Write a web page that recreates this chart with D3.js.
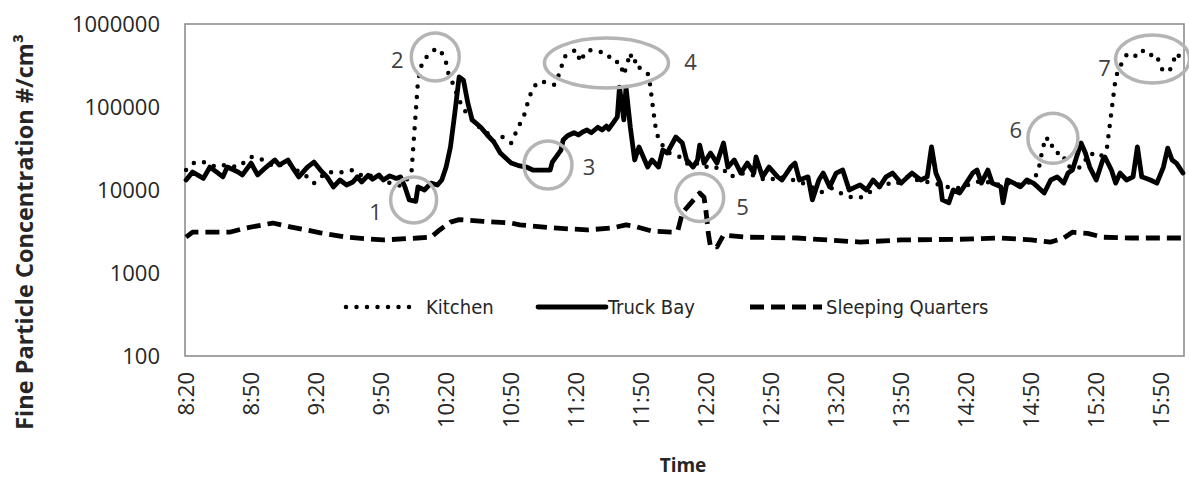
<!DOCTYPE html>
<html>
<head>
<meta charset="utf-8">
<script src="https://cdn.jsdelivr.net/npm/d3@7"></script>
<style>
  body { margin: 0; background: #fff; }
  svg { display: block; }
</style>
</head>
<body>
<div id="chart"></div>
<script>
// tick labels
const timeTicks = ["8:20", "8:50", "9:20", "9:50", "10:20", "10:50", "11:20", "11:50",
  "12:20", "12:50", "13:20", "13:50", "14:20", "14:50", "15:20", "15:50"];
const yTicks = [100, 1000, 10000, 100000, 1000000];
const seriesNames = ["Kitchen", "Truck Bay", "Sleeping Quarters"];
const timeRange = ["8:20", "16:00"];

// readings, [time, particles per cm3]
const kitchen = [
  ["8:20", 17400], ["8:24", 21700], ["8:28", 21700], ["8:34", 18900], ["8:38", 20000],
  ["8:44", 18900], ["8:50", 25000], ["8:54", 24000], ["9:01", 18900], ["9:07", 21700],
  ["9:12", 16500], ["9:16", 14400], ["9:19", 12100], ["9:25", 16500], ["9:30", 16000],
  ["9:37", 17400], ["9:42", 14400], ["9:48", 15200], ["9:54", 12100], ["9:59", 11200],
  ["10:03", 14400], ["10:04", 16000], ["10:07", 205000], ["10:09", 349000], ["10:13", 460000],
  ["10:16", 513000], ["10:18", 448000], ["10:20", 340000], ["10:21", 257000], ["10:23", 195000],
  ["10:26", 121000], ["10:29", 87000], ["10:33", 65000], ["10:37", 52000], ["10:40", 47000],
  ["10:42", 38000], ["10:46", 43500], ["10:50", 36800], ["10:53", 55000], ["10:56", 80000],
  ["10:58", 121000], ["11:00", 170000], ["11:03", 205000], ["11:08", 195000], ["11:10", 185000],
  ["11:13", 279000], ["11:14", 389000], ["11:17", 448000], ["11:20", 487000], ["11:22", 349000],
  ["11:24", 448000], ["11:26", 487000], ["11:31", 460000], ["11:34", 448000], ["11:37", 349000],
  ["11:40", 349000], ["11:42", 243000], ["11:45", 448000], ["11:46", 340000], ["11:48", 368000],
  ["11:49", 300000], ["11:53", 257000], ["11:54", 195000], ["11:55", 121000], ["11:56", 76000],
  ["11:57", 49000], ["11:59", 36800], ["12:03", 27900], ["12:08", 25000], ["12:12", 20000],
  ["12:17", 21100], ["12:22", 18000], ["12:27", 19000], ["12:31", 14400], ["12:36", 16000],
  ["12:42", 15000], ["12:48", 13000], ["12:55", 14400], ["13:01", 13000], ["13:07", 11500],
  ["13:13", 9400], ["13:18", 10500], ["13:22", 9200], ["13:28", 8000], ["13:32", 8200],
  ["13:37", 10000], ["13:43", 12100], ["13:47", 11500], ["13:53", 14400], ["13:58", 13000],
  ["14:05", 12100], ["14:10", 11000], ["14:17", 10500], ["14:23", 12100], ["14:28", 13000],
  ["14:33", 11500], ["14:40", 12100], ["14:46", 11500], ["14:50", 12600], ["14:53", 16000],
  ["14:54", 21100], ["14:55", 29000], ["14:56", 36800], ["14:57", 43500], ["14:59", 33000],
  ["15:00", 34800], ["15:03", 26000], ["15:05", 26000], ["15:06", 20000], ["15:10", 18000],
  ["15:13", 18900], ["15:17", 27900], ["15:22", 25000], ["15:25", 33000], ["15:29", 230000],
  ["15:32", 349000], ["15:34", 424000], ["15:36", 448000], ["15:39", 400000], ["15:42", 487000],
  ["15:45", 424000], ["15:48", 424000], ["15:49", 340000], ["15:51", 265000], ["15:54", 279000],
  ["15:55", 320000], ["15:57", 448000], ["15:59", 389000], ["16:00", 340000]
];

const truckBay = [
  ["8:20", 13200], ["8:23", 16500], ["8:28", 13800], ["8:31", 18900], ["8:34", 16500],
  ["8:37", 14400], ["8:39", 18900], ["8:44", 16500], ["8:46", 15200], ["8:50", 21100],
  ["8:53", 15200], ["8:57", 18900], ["9:01", 23000], ["9:03", 20000], ["9:07", 23000],
  ["9:09", 18900], ["9:12", 14400], ["9:16", 18900], ["9:19", 21700], ["9:22", 17400],
  ["9:25", 14400], ["9:28", 10900], ["9:31", 13200], ["9:34", 11500], ["9:37", 12500],
  ["9:39", 14400], ["9:41", 12500], ["9:44", 15000], ["9:46", 13500], ["9:49", 15200],
  ["9:51", 13200], ["9:54", 14800], ["9:57", 13800], ["9:59", 14400], ["10:01", 10900],
  ["10:03", 7600], ["10:06", 7300], ["10:07", 10900], ["10:10", 10000], ["10:13", 12100],
  ["10:16", 11500], ["10:18", 13200], ["10:20", 18900], ["10:22", 33000], ["10:24", 84000],
  ["10:26", 230000], ["10:28", 211000], ["10:30", 112000], ["10:32", 70000], ["10:36", 57000],
  ["10:39", 46000], ["10:42", 38000], ["10:45", 27900], ["10:50", 21100], ["10:54", 19500],
  ["10:57", 18900], ["11:00", 17400], ["11:08", 17400], ["11:09", 21700], ["11:13", 30300],
  ["11:14", 40000], ["11:16", 45000], ["11:19", 49000], ["11:21", 46000], ["11:23", 50000],
  ["11:25", 52800], ["11:27", 49000], ["11:30", 57000], ["11:32", 52800], ["11:34", 59000],
  ["11:35", 54000], ["11:37", 64000], ["11:39", 76000], ["11:40", 174000], ["11:42", 70000],
  ["11:43", 174000], ["11:45", 57000], ["11:47", 23000], ["11:49", 33000], ["11:53", 18900],
  ["11:55", 23000], ["11:58", 18900], ["12:00", 30300], ["12:02", 27900], ["12:06", 43500],
  ["12:09", 36800], ["12:11", 23000], ["12:14", 18900], ["12:16", 23000], ["12:17", 34800],
  ["12:19", 21100], ["12:22", 27900], ["12:25", 21100], ["12:28", 36800], ["12:30", 18900],
  ["12:33", 23000], ["12:36", 16000], ["12:39", 21100], ["12:42", 16000], ["12:43", 25000],
  ["12:46", 14400], ["12:49", 18900], ["12:53", 14400], ["12:55", 13200], ["12:59", 18900],
  ["13:01", 21100], ["13:03", 13200], ["13:07", 14400], ["13:09", 7600], ["13:12", 13200],
  ["13:14", 16000], ["13:17", 10900], ["13:20", 16000], ["13:23", 17400], ["13:26", 10000],
  ["13:29", 10900], ["13:31", 11500], ["13:34", 10000], ["13:37", 13200], ["13:40", 10900],
  ["13:43", 14400], ["13:46", 16000], ["13:50", 12100], ["13:53", 14400], ["13:55", 16000],
  ["13:59", 13200], ["14:02", 14400], ["14:04", 33000], ["14:06", 16000], ["14:08", 12100],
  ["14:09", 7600], ["14:12", 7000], ["14:14", 10000], ["14:17", 9200], ["14:20", 12100],
  ["14:23", 16000], ["14:25", 17400], ["14:27", 12100], ["14:30", 17400], ["14:32", 12100],
  ["14:36", 10900], ["14:37", 7000], ["14:39", 13200], ["14:42", 12100], ["14:45", 10900],
  ["14:48", 13200], ["14:51", 12100], ["14:53", 10900], ["14:56", 9200], ["14:59", 13200],
  ["15:02", 14400], ["15:05", 12100], ["15:07", 16000], ["15:09", 17400], ["15:13", 36800],
  ["15:15", 27900], ["15:17", 18900], ["15:20", 13200], ["15:23", 23000], ["15:24", 25000],
  ["15:27", 17400], ["15:29", 12100], ["15:31", 16000], ["15:34", 13200], ["15:37", 14400],
  ["15:39", 33000], ["15:41", 14400], ["15:45", 13200], ["15:48", 12100], ["15:51", 18900],
  ["15:53", 32000], ["15:55", 23000], ["15:57", 21100], ["16:00", 16000]
];

const sleepingQuarters = [
  ["8:20", 2700], ["8:23", 3100], ["8:40", 3100], ["8:48", 3500], ["9:00", 4000],
  ["9:08", 3600], ["9:22", 3050], ["9:34", 2700], ["9:51", 2500], ["10:07", 2640],
  ["10:13", 2700], ["10:17", 3300], ["10:22", 4100], ["10:26", 4400], ["10:37", 4200],
  ["10:50", 4000], ["10:54", 3800], ["11:09", 3500], ["11:25", 3300], ["11:37", 3500],
  ["11:43", 3800], ["11:48", 3600], ["11:55", 3200], ["12:05", 3100], ["12:07", 3300],
  ["12:09", 5300], ["12:13", 7000], ["12:17", 9200], ["12:19", 8200], ["12:20", 5300],
  ["12:21", 3000], ["12:22", 2060], ["12:25", 2060], ["12:28", 2870], ["12:39", 2700],
  ["13:02", 2640], ["13:31", 2360], ["13:50", 2500], ["14:17", 2550], ["14:36", 2640],
  ["14:50", 2500], ["14:59", 2360], ["15:05", 2640], ["15:09", 3100], ["15:16", 3000],
  ["15:23", 2700], ["15:36", 2640], ["15:57", 2640], ["16:00", 2640]
];

// numbered callouts
const noteLabels = ["1", "2", "3", "4", "5", "6", "7"];
const noteTimes = ["10:05", "10:15", "11:07", "11:34", "12:17", "15:00", "15:46"];
const noteValues = [7600, 400000, 20000, 339000, 8100, 42000, 379000];

const width = 1189, height = 477;
const margin = { top: 24, right: 5, bottom: 121, left: 185 };
const plotW = width - margin.left - margin.right;
const plotH = height - margin.top - margin.bottom;

const toMin = (s) => { const [h, m] = s.split(":").map(Number); return h * 60 + m; };
const fmtTime = (m) => `${Math.floor(m / 60)}:${String(m % 60).padStart(2, "0")}`;

const svg = d3.select("#chart").append("svg")
  .attr("width", width)
  .attr("height", height);

const x = d3.scaleLinear()
  .domain([toMin(timeRange[0]) - 0.5, toMin(timeRange[1]) + 0.5])
  .range([margin.left, margin.left + plotW]);

const y = d3.scaleLog()
  .domain([100, 1000000])
  .range([margin.top + plotH, margin.top]);

// plot area border
svg.append("rect")
  .attr("x", margin.left).attr("y", margin.top)
  .attr("width", plotW).attr("height", plotH)
  .attr("fill", "none")
  .attr("stroke", "#868686")
  .attr("stroke-width", 1.5);

const tickFont = "'Open Sans', sans-serif";

const yAxis = svg.append("g")
  .attr("transform", `translate(${margin.left},0)`)
  .call(d3.axisLeft(y).tickValues(yTicks).tickSize(0).tickPadding(25).tickFormat(d3.format("d")));
yAxis.select(".domain").remove();
yAxis.selectAll("text")
  .attr("dy", "0.35em")
  .style("font-family", tickFont)
  .style("font-size", "22px")
  .style("fill", "#262626");

const xAxis = svg.append("g")
  .attr("transform", `translate(0,${margin.top + plotH})`)
  .call(d3.axisBottom(x).tickValues(timeTicks.map(toMin)).tickSize(0).tickFormat(fmtTime));
xAxis.select(".domain").remove();
xAxis.selectAll("text")
  .attr("transform", "rotate(-90)")
  .attr("x", -16)
  .attr("y", 0)
  .attr("dy", "0.35em")
  .style("text-anchor", "end")
  .style("font-family", tickFont)
  .style("font-size", "22px")
  .style("fill", "#262626");

// axis titles
svg.append("text")
  .attr("transform", "translate(25,232) rotate(-90)")
  .attr("text-anchor", "middle")
  .attr("dy", "0.35em")
  .style("font-family", tickFont)
  .style("font-weight", 700)
  .style("font-size", "23.5px")
  .style("fill", "#262626")
  .text("Fine Particle Concentration #/cm³");

svg.append("text")
  .attr("x", 683).attr("y", 465)
  .attr("text-anchor", "middle")
  .attr("dy", "0.35em")
  .style("font-family", tickFont)
  .style("font-weight", 700)
  .style("font-size", "19px")
  .style("fill", "#262626")
  .text("Time");

// series
const styles = [
  { dash: "0 10.5", cap: "round", width: 4.5 },
  { dash: null, cap: "round", width: 4.8 },
  { dash: "14 7", cap: "butt", width: 4.8 }
];

const line = d3.line()
  .x((d) => x(toMin(d[0])))
  .y((d) => y(d[1]))
  .curve(d3.curveLinear);

[kitchen, truckBay, sleepingQuarters].forEach((data, i) => {
  svg.append("path")
    .datum(data)
    .attr("d", line)
    .attr("fill", "none")
    .attr("stroke", "#000")
    .attr("stroke-width", styles[i].width)
    .attr("stroke-linejoin", "round")
    .attr("stroke-linecap", styles[i].cap)
    .attr("stroke-dasharray", styles[i].dash);
});

// callout circles and numbers
const noteShape = [
  { rx: 23, ry: 23, dx: -38, dy: 12 },
  { rx: 24, ry: 24, dx: -38, dy: 3 },
  { rx: 24, ry: 24, dx: 41, dy: 2 },
  { rx: 62, ry: 25, dx: 84, dy: -1 },
  { rx: 24, ry: 24, dx: 43, dy: 10 },
  { rx: 25, ry: 25, dx: -37, dy: -8 },
  { rx: 37, ry: 24, dx: -48, dy: 9 }
];

const notes = svg.append("g")
  .selectAll("g")
  .data(noteLabels)
  .join("g")
  .attr("transform", (d, i) => `translate(${x(toMin(noteTimes[i]))},${y(noteValues[i])})`);

notes.append("ellipse")
  .attr("rx", (d, i) => noteShape[i].rx)
  .attr("ry", (d, i) => noteShape[i].ry)
  .attr("fill", "none")
  .attr("stroke", "#b4b4b4")
  .attr("stroke-width", 3.5);

notes.append("text")
  .attr("x", (d, i) => noteShape[i].dx)
  .attr("y", (d, i) => noteShape[i].dy)
  .attr("dy", "0.35em")
  .attr("text-anchor", "middle")
  .style("font-family", tickFont)
  .style("font-size", "22px")
  .style("fill", "#404040")
  .text((d) => d);

// legend
const legendFont = "'Liberation Sans Narrow', 'DejaVu Sans Condensed', sans-serif";
const legendY = 307;
const legendItems = [
  { x1: 346, x2: 412, tx: 426 },
  { x1: 538, x2: 606, tx: 608 },
  { x1: 750, x2: 822, tx: 826 }
];

const legend = svg.append("g")
  .selectAll("g")
  .data(seriesNames)
  .join("g");

legend.append("line")
  .attr("x1", (d, i) => legendItems[i].x1)
  .attr("x2", (d, i) => legendItems[i].x2)
  .attr("y1", legendY).attr("y2", legendY)
  .attr("stroke", "#000")
  .attr("stroke-width", (d, i) => styles[i].width)
  .attr("stroke-linecap", (d, i) => styles[i].cap)
  .attr("stroke-dasharray", (d, i) => styles[i].dash);

legend.append("text")
  .attr("x", (d, i) => legendItems[i].tx)
  .attr("y", legendY)
  .attr("dy", "0.35em")
  .style("font-family", legendFont)
  .style("font-size", "20px")
  .style("fill", "#262626")
  .text((d) => d);
</script>
</body>
</html>
